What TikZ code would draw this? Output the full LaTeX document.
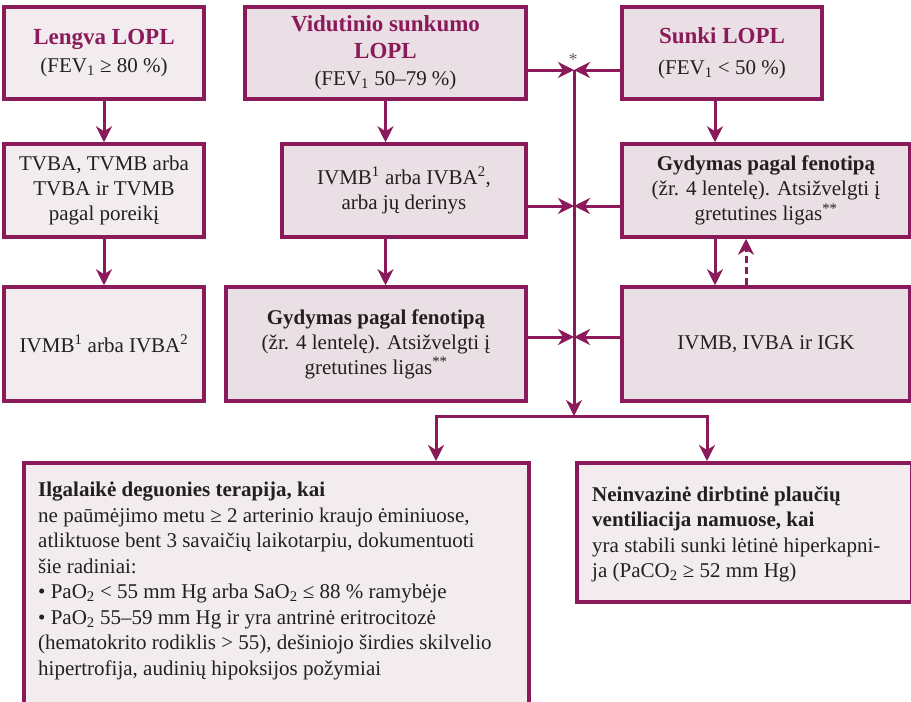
\documentclass[tikz,border=0pt]{standalone}
\usepackage{fontspec}
\setmainfont{Liberation Serif}
\usetikzlibrary{arrows.meta,positioning,calc}
\definecolor{lopl}{RGB}{139,26,90}
\definecolor{pale}{RGB}{243,236,239}
\definecolor{rose}{RGB}{234,223,228}
\definecolor{ink}{RGB}{35,31,32}
\newcommand{\loplhead}[1]{{\fontsize{23}{28}\selectfont\bfseries\color{lopl}#1}}
\begin{document}
\begin{tikzpicture}[x=1pt,y=-1pt,
    box/.style={draw=lopl, line width=3.5pt, fill=pale, align=center, text=ink,
      inner sep=0pt, font=\fontsize{21}{25}\selectfont},
    darkbox/.style={box, fill=rose},
    conn/.style={draw=lopl, line width=3pt},
    arr/.style={conn, -{Stealth[length=16pt,width=16pt,inset=5pt]}},
    txt/.style={anchor=north west, align=left, text=ink, inner sep=0pt,
      font=\fontsize{21}{25.5}\selectfont}]
  \clip (0,0) rectangle (911,702);

  % stadijos
  \node[box, minimum width=200pt, minimum height=92pt] (lengva) at (104,53)
    {\loplhead{Lengva LOPL}\\[3pt] (FEV\textsubscript{1} ≥ 80 \%)};
  \node[darkbox, minimum width=281pt, minimum height=92pt] (vid) at (385.5,53)
    {\loplhead{Vidutinio sunkumo}\\[2pt] \loplhead{LOPL}\\[2pt] (FEV\textsubscript{1} 50–79 \%)};
  \node[darkbox, minimum width=200pt, minimum height=92pt] (sunki) at (722,53)
    {\loplhead{Sunki LOPL}\\[6pt] (FEV\textsubscript{1} < 50 \%)};
  \node[text=ink!70, font=\fontsize{18}{18}\selectfont] (star) at (573,60) {*};

  % gydymas
  \node[box, minimum width=200pt, minimum height=93pt] (tvba) at (104,190.5)
    {TVBA, TVMB arba\\TVBA ir TVMB\\pagal poreikį};
  \node[darkbox, minimum width=244pt, minimum height=93pt] (ivmb) at (404,190.5)
    {IVMB\textsuperscript{1} arba IVBA\textsuperscript{2},\\arba jų derinys};
  \node[darkbox, minimum width=288pt, minimum height=93pt] (gydr) at (766,190.5)
    {\textbf{Gydymas pagal fenotipą}\\(žr. 4 lentelę). Atsižvelgti į\\gretutines ligas\textsuperscript{**}};
  \node[box, minimum width=200pt, minimum height=114pt] (ivmbb) at (104,344)
    {IVMB\textsuperscript{1} arba IVBA\textsuperscript{2}};
  \node[darkbox, minimum width=300pt, minimum height=114pt] (gydm) at (376,344)
    {\textbf{Gydymas pagal fenotipą}\\(žr. 4 lentelę). Atsižvelgti į\\gretutines ligas\textsuperscript{**}};
  \node[darkbox, minimum width=288pt, minimum height=114pt] (igk) at (766,344)
    {IVMB, IVBA ir IGK};

  % apacia
  \node[box, anchor=north west, minimum width=505pt, minimum height=300pt] (ilgbox) at (22,461) {};
  \node[box, anchor=north west, minimum width=335pt, minimum height=139pt] (neinv) at (575,461) {};
  \node[txt] (ilgtxt) at (38,482)
    {\textbf{Ilgalaikė deguonies terapija, kai}\\
     ne paūmėjimo metu ≥ 2 arterinio kraujo ėminiuose,\\
     atliktuose bent 3 savaičių laikotarpiu, dokumentuoti\\
     šie radiniai:\\
     • PaO\textsubscript{2} < 55 mm Hg arba SaO\textsubscript{2} ≤ 88 \% ramybėje\\
     • PaO\textsubscript{2} 55–59 mm Hg ir yra antrinė eritrocitozė\\
     (hematokrito rodiklis > 55), dešiniojo širdies skilvelio\\
     hipertrofija, audinių hipoksijos požymiai};
  \node[txt] (neinvtxt) at (592,486)
    {\textbf{Neinvazinė dirbtinė plaučių}\\
     \textbf{ventiliacija namuose, kai}\\
     yra stabili sunki lėtinė hiperkapni-\\
     ja (PaCO\textsubscript{2} ≥ 52 mm Hg)};

  \coordinate (j1) at (574,70);
  \coordinate (j2) at (574,206);
  \coordinate (j3) at (574,337);
  \coordinate (split) at (574,416);
  \coordinate (bl) at (436,416);
  \coordinate (br) at (707,416);
  \coordinate (rx) at (715,0);
  \coordinate (dx) at (746,0);

  \draw[arr] (lengva) -- (tvba);
  \draw[arr] (tvba) -- (ivmbb);
  \draw[arr] (vid.south) -- (vid.south |- ivmb.north);
  \draw[arr] (ivmb.south -| vid.south) -- (vid.south |- gydm.north);
  \draw[arr] (sunki.south -| rx) -- (gydr.north -| rx);
  \draw[arr] (gydr.south -| rx) -- (igk.north -| rx);
  \draw[arr, dash pattern=on 7pt off 4pt] (igk.north -| dx) -- (gydr.south -| dx);

  \draw[arr] (vid.east |- j1) -- (j1);
  \draw[arr] (sunki.west |- j1) -- (j1);
  \draw[arr] (ivmb.east |- j2) -- (j2);
  \draw[arr] (gydr.west |- j2) -- (j2);
  \draw[arr] (gydm.east |- j3) -- (j3);
  \draw[arr] (igk.west |- j3) -- (j3);
  \draw[arr] (j1) -- (split);
  \draw[arr] (br) -| (ilgbox.north -| bl);
  \draw[arr] (bl) -| (neinv.north -| br);
\end{tikzpicture}
\end{document}
